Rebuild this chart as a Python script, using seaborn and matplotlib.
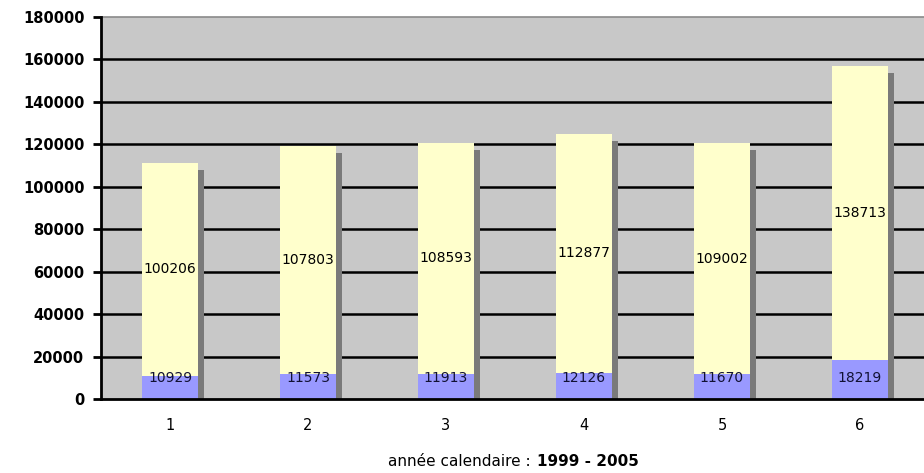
import numpy as np
import pandas as pd
import matplotlib
matplotlib.use("Agg")
import matplotlib.pyplot as plt
import matplotlib.patheffects as pe
import seaborn as sns

# data
years = ["1", "2", "3", "4", "5", "6"]
bottom_vals = [10929, 11573, 11913, 12126, 11670, 18219]
top_vals = [100206, 107803, 108593, 112877, 109002, 138713]

df = pd.DataFrame({"year": years, "bottom": bottom_vals, "top": top_vals})
df["total"] = df["bottom"] + df["top"]

sns.set_style("white")
plt.rcParams["font.family"] = ["DejaVu Sans"]

fig = plt.figure(figsize=(9.24, 4.73), dpi=100)
ax = fig.add_axes([101 / 924, 1 - 399 / 473, 828 / 924, 382 / 473])
ax.set_facecolor("#c8c8c8")

shadow = [pe.SimplePatchShadow(offset=(4, -5), shadow_rgbFace="#7a7a7a", alpha=1.0), pe.Normal()]

sns.barplot(data=df, x="year", y="total", color="#ffffcc", saturation=1,
            width=0.41, ax=ax, zorder=3, linewidth=0)
sns.barplot(data=df, x="year", y="bottom", color="#9999ff", saturation=1,
            width=0.41, ax=ax, zorder=4, linewidth=0)
for p in ax.patches[:len(years)]:
    p.set_path_effects(shadow)

# labels
for i, row in df.iterrows():
    ax.text(i, row["bottom"] + row["top"] / 2, f"{row['top']}", ha="center", va="center",
            fontsize=10, color="black", zorder=6)
    ax.text(i, max(row["bottom"] / 2, 9800), f"{row['bottom']}", ha="center", va="center",
            fontsize=10, color="#111133", zorder=6)

ax.set_ylim(0, 180000)
ax.set_xlim(-0.5, 5.5)
ax.set_yticks(np.arange(0, 180001, 20000))
ax.set_yticklabels([f"{v}" for v in range(0, 180001, 20000)], fontsize=10.5,
                   fontweight="bold", color="black")
for y in range(20000, 180000, 20000):
    ax.axhline(y, color="black", lw=1.8, zorder=1)
ax.axhline(180000, color="#8a8a8a", lw=1.2, zorder=1, clip_on=False)

ax.set_xticks(range(len(years)))
ax.set_xticklabels(years, fontsize=10.5, color="black")
ax.set_xticks(np.arange(-0.5, 6, 1), minor=True)
ax.tick_params(axis="x", which="major", length=0, pad=14)
ax.tick_params(axis="x", which="minor", length=6, width=2, color="black", direction="out")
ax.tick_params(axis="y", length=6, width=2, color="black", direction="out", pad=6, left=True)

for s in ["top", "right"]:
    ax.spines[s].set_visible(False)
for s in ["left", "bottom"]:
    ax.spines[s].set_color("black")
    ax.spines[s].set_linewidth(2)
    ax.spines[s].set_zorder(7)

ax.set_ylabel("")
ax.set_xlabel("")
fig.text(535 / 924, 1 - 461 / 473, "année calendaire : ", ha="right", va="center",
         fontsize=11, color="black")
fig.text(537 / 924, 1 - 461 / 473, "1999 - 2005", ha="left", va="center",
         fontsize=11, fontweight="bold", color="black")

fig.savefig("out.png", dpi=100, facecolor="white")
